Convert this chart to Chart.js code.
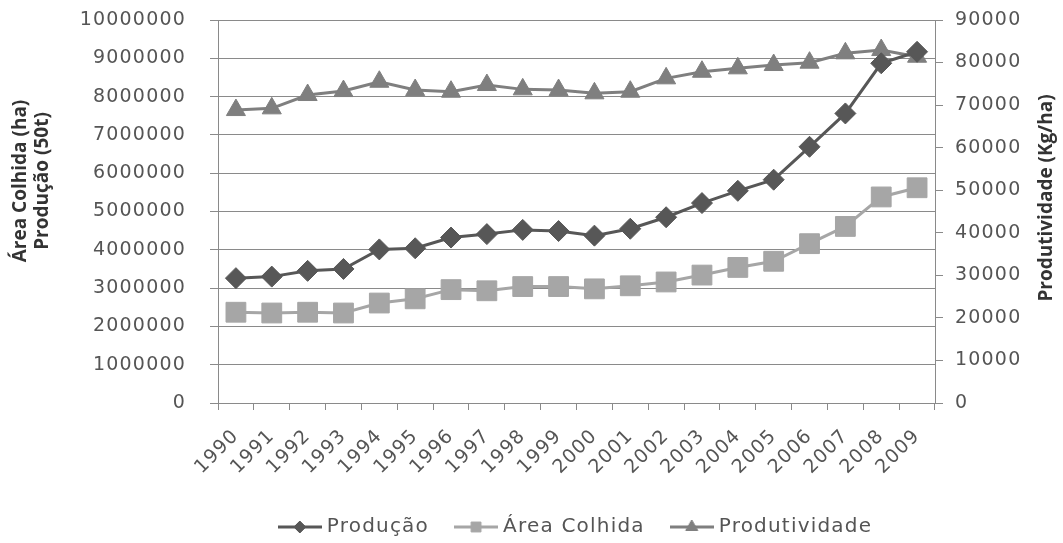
<!DOCTYPE html>
<html>
<head>
<meta charset="utf-8">
<script src="https://cdn.jsdelivr.net/npm/chart.js@4/dist/chart.umd.min.js"></script>
<style>
  html, body { margin: 0; padding: 0; background: #ffffff; }
  #wrap { width: 1063px; height: 543px; }
</style>
</head>
<body>
<div id="wrap"><canvas id="c" width="1063" height="543"></canvas></div>
<script>
const years = ['1990','1991','1992','1993','1994','1995','1996','1997','1998','1999','2000','2001','2002','2003','2004','2005','2006','2007','2008','2009'];
const producao = [3260000, 3300000, 3450000, 3500000, 4010000, 4040000, 4320000, 4410000, 4520000, 4490000, 4370000, 4550000, 4850000, 5220000, 5540000, 5830000, 6690000, 7560000, 8870000, 9170000];
const areaColhida = [2370000, 2350000, 2370000, 2350000, 2610000, 2720000, 2960000, 2930000, 3040000, 3040000, 2980000, 3060000, 3160000, 3340000, 3540000, 3700000, 4160000, 4610000, 5380000, 5620000];
const produtividade = [68840, 69240, 72370, 73300, 75490, 73540, 73150, 74720, 73700, 73540, 72770, 73150, 76290, 77840, 78640, 79420, 79970, 82170, 82940, 81370];
const leftTicks = { min: 0, max: 10000000, step: 1000000 };
const rightTicks = { min: 0, max: 90000, step: 10000 };
const seriesNames = ['Produção', 'Área Colhida', 'Produtividade'];
const leftTitle = ['Área Colhida (ha)', 'Produção (50t)'];
const rightTitle = 'Produtividade (Kg/ha)';

const colProd = '#575757';
const colArea = '#a6a6a6';
const colProdut = '#7f7f7f';
const txtCol = '#555555';
const gridCol = '#8a8a8a';
const FONT = 'DejaVu Sans';
const SPACING = '1.2px';

function legendIcon(color, style, radius) {
  const cv = document.createElement('canvas');
  cv.width = 44; cv.height = 18;
  const g = cv.getContext('2d');
  g.strokeStyle = color; g.lineWidth = 3;
  g.beginPath(); g.moveTo(0, 9); g.lineTo(44, 9); g.stroke();
  g.fillStyle = color; g.strokeStyle = color; g.lineWidth = 1;
  Chart.helpers.drawPoint(g, { pointStyle: style, radius: radius, rotation: 0, borderWidth: 1 }, 22, 9);
  return cv;
}

const spacingPlugin = {
  id: 'spacing',
  beforeUpdate(chart) { chart.ctx.letterSpacing = SPACING; },
  beforeLayout(chart) { chart.ctx.letterSpacing = SPACING; },
  beforeDraw(chart) { chart.ctx.letterSpacing = SPACING; },
  afterLayout(chart) {
    const lg = chart.legend;
    if (lg) { lg.top += 4; lg.bottom += 4; lg.left += 46; lg.right += 46; }
  },
  afterDraw(chart) {
    const ctx = chart.ctx;
    ctx.save();
    ctx.letterSpacing = '0px';
    ctx.fillStyle = '#333333';
    ctx.font = 'bold 19px "Open Sans"';
    ctx.textAlign = 'center';
    ctx.textBaseline = 'middle';
    ctx.save();
    ctx.translate(21, 181); ctx.rotate(-Math.PI / 2);
    ctx.fillText(leftTitle[0], 0, 0);
    ctx.restore();
    ctx.save();
    ctx.translate(43, 181); ctx.rotate(-Math.PI / 2);
    ctx.fillText(leftTitle[1], 0, 0);
    ctx.restore();
    ctx.save();
    ctx.translate(1047, 198); ctx.rotate(-Math.PI / 2);
    ctx.fillText(rightTitle, 0, 0);
    ctx.restore();
    ctx.restore();
  }
};

const icons = [legendIcon(colProd, 'rectRot', 6), legendIcon(colArea, 'rect', 7), legendIcon(colProdut, 'triangle', 7)];
const plain = v => String(v);
function fitY(width) {
  return function (s) { s.width = width; s.paddingTop = 0; s.paddingBottom = 0; };
}

new Chart(document.getElementById('c'), {
  type: 'line',
  data: {
    labels: years,
    datasets: [
      { label: seriesNames[0], data: producao, yAxisID: 'y', borderColor: colProd, backgroundColor: colProd,
        borderWidth: 3, pointStyle: 'rectRot', pointRadius: 10.5, pointBorderWidth: 1, pointBorderColor: colProd, tension: 0 },
      { label: seriesNames[1], data: areaColhida, yAxisID: 'y', borderColor: colArea, backgroundColor: colArea,
        borderWidth: 3, pointStyle: 'rect', pointRadius: 14, pointBorderWidth: 1, pointBorderColor: colArea, tension: 0 },
      { label: seriesNames[2], data: produtividade, yAxisID: 'y2', borderColor: colProdut, backgroundColor: colProdut,
        borderWidth: 3, pointStyle: 'triangle', pointRadius: 11, pointBorderWidth: 1, pointBorderColor: colProdut, tension: 0 }
    ]
  },
  options: {
    responsive: false,
    animation: false,
    devicePixelRatio: 1,
    layout: { padding: { top: 20, left: 0, right: 0, bottom: 0 } },
    plugins: {
      tooltip: { enabled: false },
      legend: {
        position: 'bottom',
        labels: {
          usePointStyle: true,
          pointStyleWidth: 34,
          padding: 30,
          color: txtCol,
          font: { family: FONT, size: 20 },
          generateLabels(chart) {
            return chart.data.datasets.map((ds, i) => ({
              text: ds.label, pointStyle: icons[i], fillStyle: ds.borderColor,
              strokeStyle: ds.borderColor, lineWidth: 0, hidden: false, datasetIndex: i, fontColor: txtCol
            }));
          }
        }
      }
    },
    scales: {
      x: {
        type: 'category',
        offset: true,
        grid: { offset: true, drawOnChartArea: false, drawTicks: true, tickLength: 7, color: gridCol },
        border: { color: gridCol, width: 1 },
        ticks: { color: txtCol, font: { family: FONT, size: 19 }, minRotation: 45, maxRotation: 45, padding: 15, autoSkip: false },
        afterFit(s) { s.height = 80; }
      },
      y: {
        position: 'left',
        min: leftTicks.min, max: leftTicks.max,
        ticks: { stepSize: leftTicks.step, color: txtCol, font: { family: FONT, size: 19 }, padding: 24, callback: plain },
        grid: { color: gridCol, tickLength: 8, drawTicks: true },
        border: { color: gridCol, width: 1 },
        afterFit: fitY(218)
      },
      y2: {
        position: 'right',
        min: rightTicks.min, max: rightTicks.max,
        ticks: { stepSize: rightTicks.step, color: txtCol, font: { family: FONT, size: 19 }, padding: 12, callback: plain },
        grid: { drawOnChartArea: false, color: gridCol, tickLength: 8, drawTicks: true },
        border: { color: gridCol, width: 1 },
        afterFit: fitY(128)
      }
    }
  },
  plugins: [spacingPlugin]
});
</script>
</body>
</html>
